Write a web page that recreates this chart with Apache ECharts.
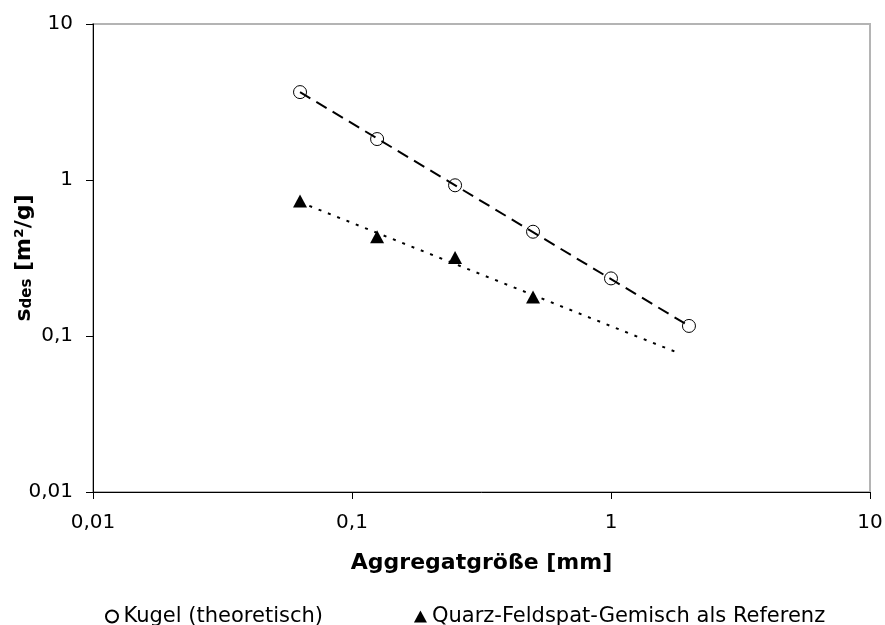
<!DOCTYPE html>
<html>
<head>
<meta charset="utf-8">
<script src="https://cdn.jsdelivr.net/npm/echarts@6/dist/echarts.min.js"></script>
<style>
html,body{margin:0;padding:0;background:#fff;}
#chart{width:885px;height:625px;}
</style>
</head>
<body>
<div id="chart"></div>
<script>
// Data
var sizes = [0.063, 0.125, 0.25, 0.5, 1, 2];
var kugel = [3.66, 1.83, 0.925, 0.466, 0.234, 0.116];
var refSizes = [0.063, 0.125, 0.25, 0.5];
var referenz = [0.733, 0.432, 0.319, 0.178];
// power trend lines (straight in log-log), endpoints
var kugelTrendX = [0.063, 2];
var kugelTrendY = [3.66, 0.116];
var refTrendX = [0.063, 1.85];
var refTrendY = [0.721, 0.077];
var tickLabels = {'-2': '0,01', '-1': '0,1', '0': '1', '1': '10'};
var seriesNames = ['Kugel (theoretisch)', 'Quarz-Feldspat-Gemisch als Referenz'];

function pairs(xs, ys) { return xs.map(function (x, i) { return [x, ys[i]]; }); }
function fmt(v) { var k = Math.round(Math.log10(v)); return tickLabels[String(k)] || ''; }

var FONT = 'DejaVu Sans';
var chart = echarts.init(document.getElementById('chart'), null, {renderer: 'canvas'});
chart.setOption({
  animation: false,
  backgroundColor: '#fff',
  textStyle: {fontFamily: FONT, color: '#000'},
  grid: {left: 93, right: 15, top: 24, bottom: 133, containLabel: false, outerBoundsMode: 'none',
         show: true, borderColor: '#b4b4b4', borderWidth: 2, backgroundColor: 'transparent'},
  legend: {
    left: 100, top: 601,
    itemGap: 91, itemWidth: 13, itemHeight: 12,
    textStyle: {fontFamily: FONT, fontSize: 21, color: '#000'},
    data: seriesNames
  },
  xAxis: {
    type: 'log', logBase: 10, min: 0.01, max: 10,
    name: 'Aggregatgröße [mm]', nameLocation: 'middle', nameGap: 60, nameMoveOverlap: false,
    nameTextStyle: {fontFamily: FONT, fontSize: 22, fontWeight: 'bold', color: '#000'},
    axisLine: {show: true, lineStyle: {color: '#000', width: 1}},
    axisTick: {show: true, inside: false, length: 7, lineStyle: {color: '#000'}},
    minorTick: {show: false},
    splitLine: {show: false},
    axisLabel: {fontFamily: FONT, fontSize: 20, color: '#000', margin: 21, formatter: fmt}
  },
  yAxis: {
    type: 'log', logBase: 10, min: 0.01, max: 10,
    name: '{s|s}{sub|des}{b| [m²/g]}', nameLocation: 'middle', nameGap: 58, nameRotate: 90, nameMoveOverlap: false,
    nameTextStyle: {
      fontFamily: FONT, fontSize: 22, fontWeight: 'bold', color: '#000',
      rich: {
        s: {fontFamily: FONT, fontSize: 22, fontWeight: 'bold', color: '#000', verticalAlign: 'bottom', lineHeight: 24},
        sub: {fontFamily: FONT, fontSize: 15, fontWeight: 'bold', color: '#000', verticalAlign: 'bottom', lineHeight: 24, padding: [7, 0, 0, 0]},
        b: {fontFamily: FONT, fontSize: 22, fontWeight: 'bold', color: '#000', verticalAlign: 'bottom', lineHeight: 24}
      }
    },
    axisLine: {show: true, lineStyle: {color: '#000', width: 1}},
    axisTick: {show: true, inside: false, length: 7, lineStyle: {color: '#000'}},
    minorTick: {show: false},
    splitLine: {show: false},
    axisLabel: {fontFamily: FONT, fontSize: 20, color: '#000', margin: 20, formatter: fmt}
  },
  series: [
    {
      name: 'trendKugel', type: 'line', data: pairs(kugelTrendX, kugelTrendY),
      showSymbol: false, symbol: 'none', silent: true, z: 1,
      lineStyle: {color: '#000', width: 2, type: [12, 7]}
    },
    {
      name: 'trendRef', type: 'line', data: pairs(refTrendX, refTrendY),
      showSymbol: false, symbol: 'none', silent: true, z: 1,
      lineStyle: {color: '#000', width: 2, type: [3, 7]}
    },
    {
      name: seriesNames[0], type: 'scatter', data: pairs(sizes, kugel),
      symbol: 'circle', symbolSize: 13, z: 3,
      itemStyle: {color: 'rgba(255,255,255,0)', borderColor: '#000', borderWidth: 1, opacity: 1}
    },
    {
      name: seriesNames[1], type: 'scatter', data: pairs(refSizes, referenz),
      symbol: 'triangle', symbolSize: [14, 13], z: 3,
      itemStyle: {color: '#000', opacity: 1}
    }
  ]
});
</script>
</body>
</html>
